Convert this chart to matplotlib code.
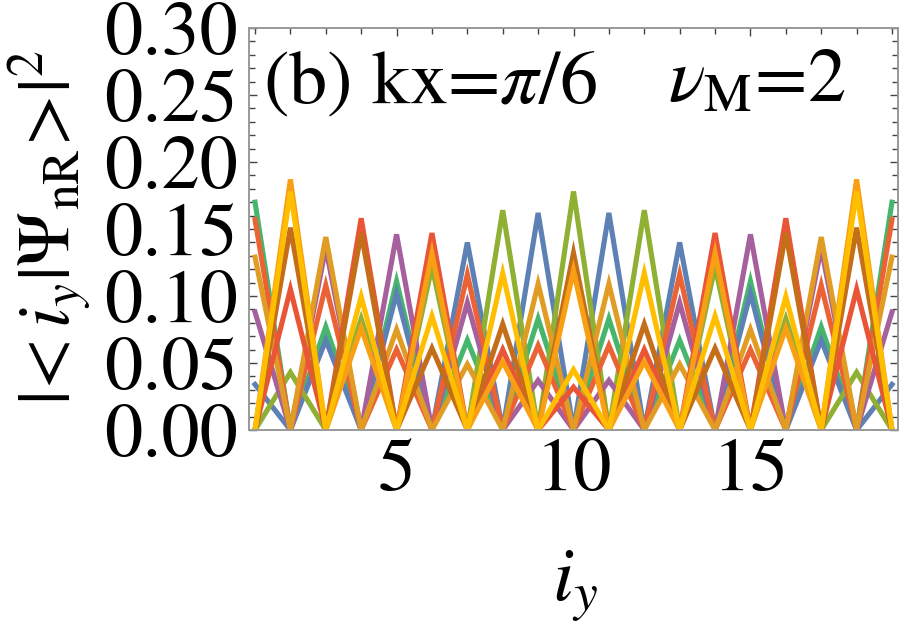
import numpy as np
import matplotlib
matplotlib.use('Agg')
from matplotlib import pyplot as plt
from matplotlib.ticker import MultipleLocator, FormatStrFormatter

plt.rcParams['font.family'] = 'STIXGeneral'
plt.rcParams['mathtext.fontset'] = 'stix'

sites = np.arange(1, 20)

# states living on odd sites
green  = [0.170, 0, 0.077, 0, 0.111, 0, 0.067, 0, 0.083, 0, 0.083, 0, 0.067, 0, 0.111, 0, 0.077, 0, 0.170]
blue   = [0.034, 0, 0.067, 0, 0.102, 0, 0.140, 0, 0.162, 0, 0.162, 0, 0.140, 0, 0.102, 0, 0.067, 0, 0.034]
purple = [0.088, 0, 0.136, 0, 0.146, 0, 0.095, 0, 0.037, 0, 0.037, 0, 0.095, 0, 0.146, 0, 0.136, 0, 0.088]
red1   = [0.157, 0, 0.108, 0, 0.060, 0, 0.116, 0, 0.063, 0, 0.063, 0, 0.116, 0, 0.060, 0, 0.108, 0, 0.157]
orange1 = [0.129, 0, 0.144, 0, 0.075, 0, 0.049, 0, 0.109, 0, 0.109, 0, 0.049, 0, 0.075, 0, 0.144, 0, 0.129]

# states living on even sites
olive   = [0, 0.043, 0, 0.083, 0, 0.122, 0, 0.164, 0, 0.178, 0, 0.164, 0, 0.122, 0, 0.083, 0, 0.043, 0]
red2    = [0, 0.105, 0, 0.158, 0, 0.147, 0, 0.060, 0, 0.032, 0, 0.060, 0, 0.147, 0, 0.158, 0, 0.105, 0]
brown   = [0, 0.151, 0, 0.147, 0, 0.061, 0, 0.079, 0, 0.132, 0, 0.079, 0, 0.061, 0, 0.147, 0, 0.151, 0]
orange2 = [0, 0.187, 0, 0.076, 0, 0.132, 0, 0.051, 0, 0.119, 0, 0.051, 0, 0.132, 0, 0.076, 0, 0.187, 0]
yellow  = [0, 0.178, 0, 0.0995, 0, 0.085, 0, 0.117, 0, 0.045, 0, 0.117, 0, 0.085, 0, 0.0995, 0, 0.178, 0]

series = [green, blue, olive, purple, red1, orange1, red2, brown, orange2, yellow]
colors = ['#47B66D', '#5E81B5', '#8FB032', '#A5609D', '#EB6235',
          '#E19C24', '#E95536', '#C56E1A', '#F89F13', '#FFBF00']

fig = plt.figure(figsize=(9, 6.29), dpi=100)
ax = fig.add_axes([249/900, 1-430/629, (898-249)/900, (430-28)/629])

for s, c in zip(series, colors):
    ax.plot(sites, s, color=c, lw=3.7, solid_joinstyle='miter')

ax.set_xlim(0.83, 19.17)
ax.set_ylim(0, 0.30)
ax.xaxis.set_major_locator(MultipleLocator(5))
ax.xaxis.set_minor_locator(MultipleLocator(1))
ax.yaxis.set_major_locator(MultipleLocator(0.05))
ax.yaxis.set_minor_locator(MultipleLocator(0.01))
ax.yaxis.set_major_formatter(FormatStrFormatter('%.2f'))

ax.tick_params(which='both', direction='in', top=True, right=True,
               color='#444444', labelsize=55, width=1.0)
ax.tick_params(which='major', length=6)
ax.tick_params(which='minor', length=4)
ax.tick_params(axis='y', pad=8)
ax.tick_params(axis='x', pad=6)
for sp in ax.spines.values():
    sp.set_color('#999999')
    sp.set_linewidth(1.4)

fig.text(263/900, 1-103/629, r'(b) kx=$\pi$/6', fontsize=55, ha='left', va='baseline')
fig.text(845/900, 1-102/629, r'$\nu_{\rm M}$=2', fontsize=55, ha='right', va='baseline')
fig.text(575/900, 1-600/629, r'$i_y$', fontsize=55, ha='center', va='baseline')
fig.text(50/900, 1-228/629, r'$|\!{<}i_y|\Psi_{\rm nR}\!{>}\!|^2$', fontsize=53,
         rotation=90, ha='center', va='center')

fig.savefig('out.png', dpi=100)
